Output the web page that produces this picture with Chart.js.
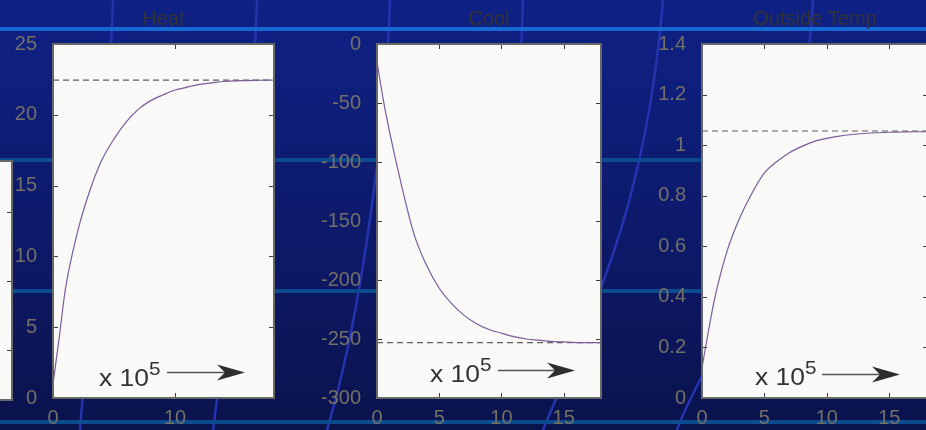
<!DOCTYPE html>
<html>
<head>
<meta charset="utf-8">
<script src="https://cdn.jsdelivr.net/npm/chart.js@4.4.1/dist/chart.umd.min.js"></script>
<style>
  html, body { margin: 0; padding: 0; }
  body {
    width: 926px; height: 430px; overflow: hidden; position: relative;
    background: linear-gradient(to bottom, #0f2185 0%, #0d1a6c 50%, #0a134c 100%);
    font-family: "Liberation Sans", Arial, sans-serif;
  }
  #bg { position: absolute; left: 0; top: 0; }
  canvas { position: absolute; top: 0; }
</style>
</head>
<body>
<svg id="bg" width="926" height="430">
  <g fill="none" stroke="#2533b0" stroke-width="2.5">
    <path d="M113,0 C108,150 90,300 80,430"/>
    <path d="M257,0 C252,150 230,300 213,430"/>
    <path d="M390,0 C385,140 360,320 327,430"/>
    <path d="M523,0 C520,100 515,200 510,300"/>
    <path d="M663,0 C655,100 635,200 600,290 C580,340 560,390 543,430"/>
    <path d="M813,0 C808,120 760,260 700,380 C690,400 682,415 677,430"/>
    <path d="M10,160 C6,200 3,230 0,250"/>
  </g>
  <rect x="0" y="27" width="926" height="4" fill="#1668d2"/>
  <rect x="0" y="158" width="926" height="4" fill="#0c4c8e"/>
  <rect x="0" y="289" width="926" height="4" fill="#0c4c8e"/>
  <rect x="0" y="420" width="926" height="4" fill="#0c4c8e"/>
</svg>
<canvas id="cLeft" width="313" height="430" style="left:-300px"></canvas>
<canvas id="cHeat" width="300" height="430" style="left:0px"></canvas>
<canvas id="cCool" width="300" height="430" style="left:320px"></canvas>
<canvas id="cOut" width="300" height="430" style="left:640px"></canvas>
<script>
// time axis (x 10^5)
const timeSteps = [0, 0.5, 1, 2, 3, 4, 5, 6, 7, 8, 9, 10, 11, 12, 13, 14, 15, 16, 17, 18];

const heatResponse = [1.0, 4.2, 7.6, 11.7, 14.6, 16.8, 18.3, 19.5, 20.4, 21.0, 21.4, 21.75,
  21.95, 22.15, 22.25, 22.35, 22.4, 22.42, 22.44, 22.45];
const coolResponse = [-15, -47, -74, -121, -162, -188, -207, -220, -230, -237, -242, -245,
  -248, -250, -251, -252, -252.5, -253, -253, -253];
const outsideResponse = [0.12, 0.26, 0.39, 0.58, 0.71, 0.81, 0.89, 0.935, 0.97, 0.995, 1.015,
  1.027, 1.036, 1.042, 1.046, 1.049, 1.051, 1.052, 1.053, 1.053];

// steady-state (dashed) levels
const heatFinal = 22.45;
const coolFinal = -253;
const outsideFinal = 1.056;

const panelTitles = ['Heat', 'Cool', 'Outside Temp'];

const tickFont = { family: '"Liberation Sans", Arial, sans-serif', size: 20 };
const tickColor = '#737068';

// draws the matlab-style axes box, inward ticks, title and "x 10^5" note
const panelPlugin = {
  id: 'panel',
  beforeDraw(chart) {
    const a = chart.chartArea, ctx = chart.ctx;
    ctx.save();
    ctx.fillStyle = '#f9f9f7';
    ctx.fillRect(a.left, a.top, a.right - a.left, a.bottom - a.top);
    ctx.restore();
  },
  afterDraw(chart, args, opts) {
    const a = chart.chartArea, ctx = chart.ctx;
    ctx.save();
    // inward ticks
    ctx.strokeStyle = '#3a3a3a';
    ctx.lineWidth = 1;
    const xs = chart.scales.x, ys = chart.scales.y;
    if (opts.ticks !== false) {
      xs.ticks.forEach(t => {
        const px = Math.round(xs.getPixelForValue(t.value)) + 0.5;
        if (px < a.left + 2 || px > a.right - 2) return;
        ctx.beginPath();
        ctx.moveTo(px, a.bottom); ctx.lineTo(px, a.bottom - 5);
        ctx.moveTo(px, a.top); ctx.lineTo(px, a.top + 5);
        ctx.stroke();
      });
    }
    ys.ticks.forEach(t => {
      const py = Math.round(ys.getPixelForValue(t.value)) + 0.5;
      if (py < a.top + 2 || py > a.bottom - 2) return;
      ctx.beginPath();
      ctx.moveTo(a.left, py); ctx.lineTo(a.left + 5, py);
      ctx.moveTo(a.right, py); ctx.lineTo(a.right - 5, py);
      ctx.stroke();
    });
    // box
    ctx.strokeStyle = '#686868';
    ctx.lineWidth = 2;
    ctx.strokeRect(a.left, a.top, a.right - a.left, a.bottom - a.top);

    if (opts.title) {
      ctx.fillStyle = '#333333';
      ctx.font = '20px "Liberation Sans", Arial, sans-serif';
      ctx.textAlign = 'center';
      ctx.textBaseline = 'middle';
      ctx.fillText(opts.title, (a.left + a.right) / 2, 19);
    }
    if (opts.note) {
      const n = opts.note;
      const tx = a.left + n.tx, ty = a.bottom - n.ty;
      ctx.save();
      ctx.translate(tx, ty);
      ctx.scale(1.15, 1);
      ctx.fillStyle = '#333333';
      ctx.textAlign = 'left';
      ctx.textBaseline = 'alphabetic';
      ctx.font = '23px "Liberation Sans", Arial, sans-serif';
      ctx.fillText('x 10', 0, 0);
      const w = ctx.measureText('x 10').width;
      ctx.font = '18px "Liberation Sans", Arial, sans-serif';
      ctx.fillText('5', w, -11);
      ctx.restore();
      const ay = a.bottom - n.ay + 0.5;
      const x1 = a.left + n.ax1, x2 = a.left + n.ax2;
      ctx.strokeStyle = '#555555';
      ctx.lineWidth = 1.3;
      ctx.beginPath();
      ctx.moveTo(x1, ay); ctx.lineTo(x2 - 20, ay);
      ctx.stroke();
      ctx.fillStyle = '#2e2e2e';
      ctx.beginPath();
      ctx.moveTo(x2, ay);
      ctx.lineTo(x2 - 28, ay - 8);
      ctx.lineTo(x2 - 20, ay);
      ctx.lineTo(x2 - 28, ay + 8);
      ctx.closePath();
      ctx.fill();
    }
    ctx.restore();
  }
};

function makePanel(id, cfg) {
  return new Chart(document.getElementById(id), {
    type: 'line',
    data: {
      datasets: [
        {
          data: cfg.values ? timeSteps.map((t, i) => ({ x: t, y: cfg.values[i] })) : [],
          borderColor: '#7b5c9c',
          borderWidth: 1.2,
          pointRadius: 0,
          cubicInterpolationMode: 'monotone'
        },
        {
          data: cfg.final !== undefined ? [{ x: 0, y: cfg.final }, { x: cfg.xMax + 1, y: cfg.final }] : [],
          borderColor: '#5e5e5e',
          borderWidth: 1.2,
          borderDash: [6, 4],
          pointRadius: 0
        }
      ]
    },
    options: {
      responsive: false,
      animation: false,
      layout: { padding: { top: cfg.top, right: cfg.right, left: 0, bottom: 0 } },
      plugins: {
        legend: { display: false },
        tooltip: { enabled: false },
        panel: { title: cfg.title, note: cfg.note, ticks: cfg.xTicks }
      },
      scales: {
        x: {
          type: 'linear',
          min: 0,
          max: cfg.xMax,
          grid: { display: false },
          border: { display: false },
          ticks: {
            display: cfg.labels !== false,
            stepSize: cfg.xStep,
            includeBounds: false,
            maxRotation: 0,
            padding: 0,
            color: tickColor,
            font: tickFont
          },
          afterFit: s => { s.height = cfg.xHeight; }
        },
        y: {
          min: cfg.yMin,
          max: cfg.yMax,
          grid: { display: false },
          border: { display: false },
          ticks: {
            display: cfg.labels !== false,
            stepSize: cfg.yStep,
            includeBounds: false,
            padding: 8,
            color: tickColor,
            font: tickFont,
            callback: v => String(Number(v.toFixed(2)))
          },
          afterFit: s => { s.width = cfg.yWidth; }
        }
      }
    },
    plugins: [panelPlugin]
  });
}

// partially visible panel at the left edge
makePanel('cLeft', {
  top: 161, right: 1, xHeight: 30, yWidth: 0, labels: false, xTicks: false,
  xMin: 0, xMax: 1, xStep: 1, yMin: -0.72, yMax: 2.74, yStep: 1
});

makePanel('cHeat', {
  title: panelTitles[0], values: heatResponse, final: heatFinal,
  top: 44, right: 26, xHeight: 32, yWidth: 53,
  xMax: 18.1, xStep: 10, yMin: 0, yMax: 25, yStep: 5,
  note: { tx: 46, ty: 12, ax1: 114, ax2: 192, ay: 26 }
});

makePanel('cCool', {
  title: panelTitles[1], values: coolResponse, final: coolFinal,
  top: 44, right: 19, xHeight: 32, yWidth: 57,
  xMax: 18, xStep: 5, yMin: -300, yMax: 0, yStep: 50,
  note: { tx: 53, ty: 16, ax1: 121, ax2: 198, ay: 28 }
});

makePanel('cOut', {
  title: panelTitles[2], values: outsideResponse, final: outsideFinal,
  top: 44, right: 12, xHeight: 32, yWidth: 62,
  xMax: 18.1, xStep: 5, yMin: 0, yMax: 1.4, yStep: 0.2,
  note: { tx: 53, ty: 13, ax1: 120, ax2: 198, ay: 24 }
});
</script>
</body>
</html>
